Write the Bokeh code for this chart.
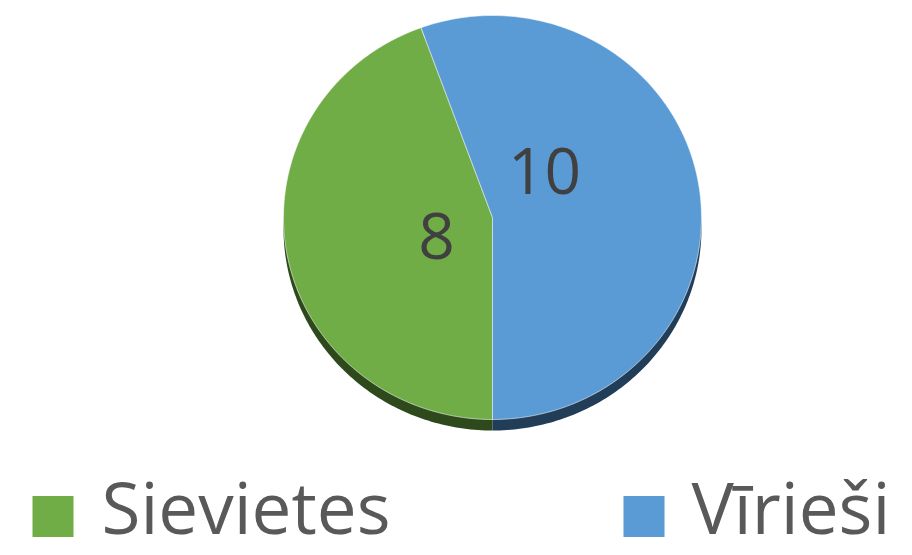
import math
from bokeh.plotting import figure
from bokeh.models import Range1d
from bokeh.core.properties import value
from bokeh.embed import file_html
from bokeh.resources import INLINE

# ---- data ----
categories = ["Sievietes", "Vīrieši"]
counts = [8, 10]
colors = ["#70AD47", "#5B9BD5"]
shadow_colors = ["#2E4A1D", "#223D58"]

# ---- layout (pixels in figure space, y up) ----
W, H = 912, 555
cx, cy = 492, 338
rx, ry = 209, 202
shadow_dy = 11
first_slice_angle = 180.0  # degrees, clockwise from 12 o'clock
label_pos = [(436, 320), (544, 385)]
FONT = "Open Sans"

p = figure(width=W, height=H, output_backend="svg", toolbar_location=None,
           x_range=Range1d(0, W), y_range=Range1d(0, H), min_border=0,
           outline_line_color=None, background_fill_color="white",
           border_fill_color="white")
p.axis.visible = False
p.grid.visible = False

total = sum(counts)


def slice_poly(a0, a1, ox=0.0, oy=0.0):
    n = max(int(abs(a1 - a0) / 1.0), 2)
    xs = [cx + ox]
    ys = [cy + oy]
    for i in range(n + 1):
        t = math.radians(a0 + (a1 - a0) * i / n)
        xs.append(cx + ox + rx * math.sin(t))
        ys.append(cy + oy + ry * math.cos(t))
    return xs, ys


angles = []
a = first_slice_angle
for c in counts:
    span = 360.0 * c / total
    angles.append((a, a + span))
    a += span

# shadow (3D side)
sx, sy = [], []
for (a0, a1) in angles:
    xs, ys = slice_poly(a0, a1, 0, -shadow_dy)
    sx.append(xs)
    sy.append(ys)
p.patches(sx, sy, fill_color=shadow_colors, line_color=None)

# main slices
mx, my = [], []
for (a0, a1) in angles:
    xs, ys = slice_poly(a0, a1)
    mx.append(xs)
    my.append(ys)
p.patches(mx, my, fill_color=colors, line_color="white", line_alpha=0.55,
          line_width=1)

# data labels
p.text(x=[lp[0] for lp in label_pos], y=[lp[1] for lp in label_pos],
       text=[str(c) for c in counts], text_font=value(FONT),
       text_font_size="64px", text_color="#404040",
       text_align="center", text_baseline="middle")

# legend
leg_sq_x = [32, 623]
leg_sq_y = 39
leg_sq_size = 41
leg_txt_x = [101, 691]
leg_txt_y = 49
p.rect(x=[x + leg_sq_size / 2 for x in leg_sq_x], y=[leg_sq_y] * 2,
       width=leg_sq_size, height=leg_sq_size, fill_color=colors, line_color=None)
p.text(x=leg_txt_x, y=[leg_txt_y] * 2, text=categories, text_font=value(FONT),
       text_font_size="71px", text_color="#595959",
       text_align="left", text_baseline="middle")

open("out.html", "w").write(file_html(p, INLINE))
